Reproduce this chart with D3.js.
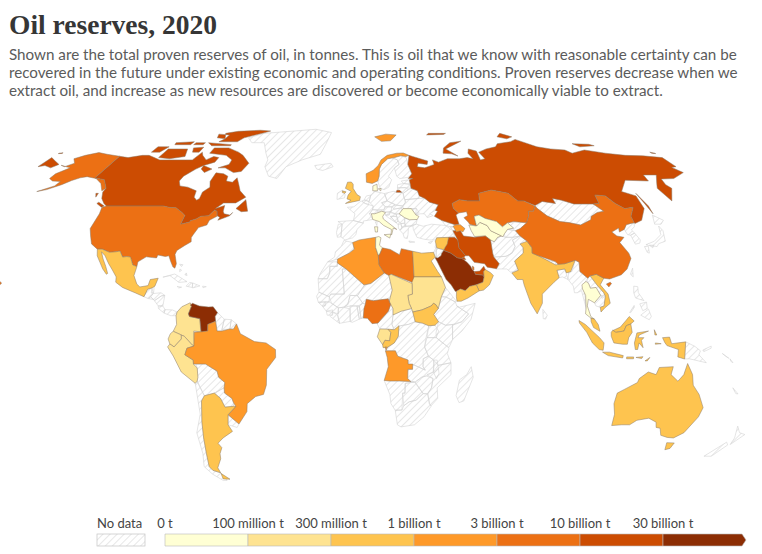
<!doctype html>
<html>
<head>
<meta charset="utf8">
<script src="https://cdnjs.cloudflare.com/ajax/libs/d3/7.8.5/d3.min.js"></script>
<style>
  body { margin: 0; background: #fff; }
  svg { display: block; }
  text { font-family: Lato, sans-serif; }
</style>
</head>
<body>
<script>
const w = 762, h = 554;

const titleText = 'Oil reserves, 2020';
const subtitleLines = [
  'Shown are the total proven reserves of oil, in tonnes. This is oil that we know with reasonable certainty can be',
  'recovered in the future under existing economic and operating conditions. Proven reserves decrease when we',
  'extract oil, and increase as new resources are discovered or become economically viable to extract.'
];

// legend bins, thresholds in billion tonnes
const thresholds = [0.1, 0.3, 1, 3, 10, 30];
const tickLabels = ['0 t', '100 million t', '300 million t', '1 billion t', '3 billion t', '10 billion t', '30 billion t'];
const binColors = ['#ffffd4', '#fee391', '#fec44f', '#fe9929', '#ec7014', '#cc4c02', '#8c2d04'];

// reserves (billion tonnes), everything else is "no data"
const oilCountries = ['Venezuela','Saudi Arabia','Canada','Iran','Iraq','Russia','Kuwait','UAE','Libya','USA','Nigeria','Kazakhstan','China','Brazil','Algeria','Angola','Norway','Mexico','Argentina','India','Australia','Indonesia','Malaysia','Vietnam','Egypt','Oman','Yemen','Azerbaijan','South Sudan','UK','Syria','Congo','Qatar','Colombia','Ecuador','Peru','Sudan','Chad','Gabon','Tunisia','Italy','Romania','Denmark','Turkmenistan','Uzbekistan','Thailand'];
const oilReserves = [48, 41, 27, 21.7, 19.6, 14.8, 14, 13, 6.3, 8.2, 5, 3.9, 3.5, 1.7, 1.5, 1.1, 1.1, 0.8, 0.3, 0.6, 0.4, 0.3, 0.4, 0.6, 0.4, 0.7, 0.4, 1, 0.5, 0.3, 0.35, 0.4, 3.4, 0.27, 0.17, 0.12, 0.2, 0.2, 0.28, 0.06, 0.08, 0.08, 0.06, 0.08, 0.08, 0.04];

// country outlines as lon,lat rings
const shapes = {
  Greenland: ['-73,78.5 -65,81 -45,82.5 -30,83.6 -18,81.5 -20,75 -22,70.5 -32,68 -40,65 -43,60 -48,61 -52,65 -52,68 -55,71 -60,76 -68,76'],
  Iceland: ['-24,65.5 -15,66.5 -13.5,65 -19,63.4 -22.5,64'],
  Guatemala: ['-92.2,14.5 -91,17.3 -89.2,17.9 -88.3,15.7 -89.5,14.3 -90.3,13.8'],
  Belize: ['-89.2,17.9 -88.3,18.4 -88.2,16.1 -89.2,15.9'],
  Honduras: ['-89.3,14.5 -88.3,15.7 -85,16 -83.2,15 -84.7,14.8 -87.5,13'],
  Salvador: ['-90.1,13.8 -89.3,14.4 -87.8,13.4'],
  Nicaragua: ['-87.5,13 -84.7,14.8 -83.2,15 -83.7,11 -85.7,11'],
  'Costa Rica': ['-85.7,11 -83.7,11 -82.6,9.6 -83,8.3 -85.5,10'],
  Panama: ['-83,8.3 -82.6,9.6 -79.5,9.5 -77.4,8.7 -77.8,7.3 -80,7.3'],
  Cuba: ['-85,21.9 -80,23.1 -74.2,20.2 -77.7,19.9 -82,22.5'],
  Haiti: ['-74.4,18.5 -73,19.9 -71.7,19.7 -71.7,18 '],
  'Dominican Rep': ['-71.7,19.7 -68.4,18.6 -71.5,17.8'],
  Jamaica: ['-78.3,18.4 -76.3,18.1 -77.5,17.8'],
  'Puerto Rico': ['-67.2,18.5 -65.6,18.3 -67,17.9'],
  Bahamas: ['-78.5,26.8 -77,26.6 -77.5,25.9', '-78,25 -77.2,24.5 -78,24', '-75,23.5 -74.5,22.5 -75.5,22.8'],
  Guyana: ['-60,8.5 -57,6 -58,1.5 -60,1.5 -60.7,5.2 -61,7'],
  Suriname: ['-57,6 -54,5.8 -54.5,2.3 -58,2'],
  'French Guiana': ['-54,5.8 -51.7,4.2 -53,2.2 -54.5,2.3'],
  Bolivia: ['-69.5,-11 -65.3,-11 -60.5,-13.7 -60,-16 -57.5,-18 -58,-20 -62.5,-22 -67,-23 -69.5,-17.5 -69,-16 -69,-12.5'],
  Paraguay: ['-58,-20 -58,-22 -55,-24 -54.5,-25.6 -54.7,-27 -58.5,-27.3 -60,-24 -62.5,-22'],
  Chile: ['-69.5,-17.5 -70.4,-18.3 -70,-30 -73.5,-37 -73.7,-45 -75.5,-50 -73,-53 -69,-55.5 -67,-55.5 -68.6,-52.5 -72,-51.5 -73,-50 -72,-45 -71,-39 -70,-33 -68.5,-25 -67,-23'],
  Uruguay: ['-57.6,-30.2 -53.4,-33.7 -54.5,-35 -58.4,-34'],
  Ireland: ['-10,54 -7.5,55.3 -6,53.5 -6.3,52.2 -10,51.6'],
  France: ['-4.7,48.5 -1.5,48.7 2,51 4,50 8,49 7.5,47.5 6,46 7.5,43.8 3,43.2 3,42.4 -1.7,43.4 -1,46', '8.6,42.9 9.5,42.9 9.3,41.5'],
  Spain: ['-9,43 -1.7,43.4 3,42.4 0,40 -0.5,38 -2,36.8 -5.5,36 -7.4,37.2 -7,42'],
  Portugal: ['-8.8,42 -7,42 -7.4,37.2 -9,37 -9.5,38.8'],
  Belgium: ['2.5,51 4,51.4 6,50.7 5.7,49.6 4,50'],
  Netherlands: ['3.5,51.4 4.8,53 7,53.3 6,50.8'],
  Germany: ['6,50.7 7,53.3 9,54.8 14,53.9 15,51 12.2,50.3 13.8,48.7 13,47.5 7.5,47.6 8,49'],
  Sweden: ['11,59 12,56 14,55.5 16.5,56.5 18.5,59.5 17,61 21,64.5 24,66 23.5,68 20.5,69 18,68.5 14,66 12.5,64 12,61'],
  Finland: ['21.5,61 23,60 27.5,60.5 30,62 29,66 29,69 26,69.8 20.5,69 23.5,68 24,66 21,64.5'],
  Estonia: ['23.5,59 28,59.5 27.5,57.7 24.5,58'],
  Latvia: ['21,56.2 21.3,57.5 24.5,58 27.5,57.7 28,56 25,56.3'],
  Lithuania: ['21,56.2 25,56.3 26.5,55.5 23.5,54 22.8,54.4 21,55.2'],
  Belarus: ['23.5,54 26.5,55.5 28,56 31,55 31.5,53 31,52 24,51.5 23.5,52.5'],
  Poland: ['14,53.9 18.5,54.8 22.8,54.4 23.5,54 24,50.5 22.5,49 19,49.4 15,51'],
  Ukraine: ['24,51.5 31,52 34,52 36,50.5 40,49.5 38,47.3 35,46 36.5,45.3 33.5,44.5 32.5,46 30.5,46 28,45.5 29,48 26.5,48 22.5,48 22.5,49 24,50.5'],
  Czechia: ['12.2,50.3 15,51 18.8,49.6 17,48.7 13.8,48.7'],
  Slovakia: ['17,48.7 19,49.4 22.5,49 22,48.3 18,47.8'],
  Austria: ['9.6,47.3 13,47.5 13.8,48.7 17,48.7 16.5,46.7 10.5,46.8'],
  Switzerland: ['6,46 7.5,47.6 9.6,47.4 10.4,46.5 8.5,46'],
  Hungary: ['16,46.8 18,47.8 22,48.3 21,46 18.8,45.9'],
  Moldova: ['26.5,48 29,48 30,46.5 28.3,45.5'],
  Bulgaria: ['22.7,44.3 25,43.7 28.6,43.8 27.8,42 26,41.3 22.5,41.3'],
  Slovenia: ['13.7,46.5 16,46.8 15.5,45.5 13.7,45.5'],
  Croatia: ['13.7,45.4 15.5,45.7 16,46.5 18.8,45.9 19,45 16,45 18.5,42.5 15,44.5'],
  Bosnia: ['16,45 19,45 19.5,43.5 18.5,42.5'],
  Serbia: ['18.8,45.9 20.3,46 22.7,44.5 22.5,42.5 20.7,42.2 19.3,43.5 19,45'],
  Montenegro: ['18.5,42.5 19.5,43.3 20,42.5 19.3,41.9'],
  Albania: ['19.4,41.9 20.6,42.2 21,40.5 20,39.7 19.3,40.5'],
  'N Macedonia': ['20.6,42.2 22.5,42.3 23,41.3 21,40.9'],
  Greece: ['20,39.6 21,40.8 26,41.5 24,40.6 23.5,38 23,36.5 21.7,36.8 21.2,38.4', '23.6,35.6 26.3,35.2 24,35'],
  Turkey: ['26.2,40 26.2,41.8 28,42 31,41.2 35,42 41.5,41.5 44.5,39.5 44.8,37.4 42,37 36.5,36.8 36,36 33,36 30.5,36.3 27.5,37'],
  Cyprus: ['32.4,35 34.5,35.6 33.5,34.6'],
  Georgia: ['40,43.5 46,41.8 46.5,41.3 43.5,41 41.5,41.5'],
  Armenia: ['43.5,41 45.5,41 46.5,39 44.5,39.7'],
  Jordan: ['35,29.4 36,33 39,32 38,31 37.5,30 36,29.2'],
  Israel: ['34.3,31.3 35.7,33 35.5,29.5 34.9,29.5'],
  Lebanon: ['35.2,33.2 36,34.6 36.5,34 35.8,33.2'],
  Kyrgyzstan: ['71,42.5 74,43 80,42.5 76,40.3 73.5,39.5 70,40 73,40.5'],
  Tajikistan: ['68,38.3 70,40 73.5,39.5 75,37.5 71.5,37 68,37'],
  Afghanistan: ['61,36 62.5,35.3 64.5,37 66.5,37.5 68,37 71.5,37 75,37.5 71,36 71.5,33.5 69.5,31 66.5,29.8 61,29.5 60.8,31'],
  Pakistan: ['61,25 66,25 67.5,23.8 71,24.5 70,28 74.5,31 75,33 77.5,35.5 75,37.5 71,36 71.5,33.5 69.5,31 66.5,29.8 61,29.5 63,27'],
  Bangladesh: ['88,24.5 91.5,25 92.3,21 90,22 88.5,21.7'],
  Nepal: ['80.2,29 88,27.8 88,26.4 81,27.5'],
  Bhutan: ['89,27.2 92,28 92,26.8 89,26.8'],
  'Sri Lanka': ['80,9.7 81.8,7.5 81,6 80,6.2'],
  Myanmar: ['92.3,21 93,24 94.5,24 97,28.3 98.5,27.5 98,24 101,21.5 100,20.5 98,18 98.7,16 98.7,10 97.5,16.8 95.5,16 94.3,16 94.2,18.5'],
  Laos: ['100.5,20.5 102,22.4 104.5,19 107,16 107.5,14.7 106,13.9 105.5,15 104,18 101.5,17.7 101,19.5'],
  Cambodia: ['102.5,12.2 105.5,15 107.5,14.7 106.5,11 104.8,10.5 103,11'],
  Philippines: ['120.5,18.5 122.2,18.3 122,16 124,13 120.5,14 120,16', '122,7.5 123.5,8.5 125.5,9.8 126.5,7 125.5,5.8 124,6.5', '122,11.8 125,12.5 125,10 123,9.2', '117.3,8.5 119.5,11.2 119.5,10.5 117.8,8.5'],
  Taiwan: ['121.5,25.3 121,22 120,23'],
  Japan: ['131,34.2 135.5,35.5 140,38 141.3,41.3 142,39.5 140.5,35.5 137,34.6 135.7,33.5 132,33.9', '140,42 141.7,45.5 145.3,43.5 143,42', '130,33.5 131.8,33.6 131,31 130.2,31.3', '132.5,34 134.5,34 133.5,33'],
  'North Korea': ['124.3,40 126.5,41.8 129,42.3 130.7,42.5 129.7,41 127.5,39.8 128.3,38.6 126,37.8 124.7,38'],
  'South Korea': ['126,37.8 128.3,38.6 129.4,36 128.5,34.8 126.3,34.4'],
  Mongolia: ['87.5,49.2 92,50.8 98,50 98,52 102,51.3 107,49.8 116.5,49.8 119.5,47 116,46.5 112,45 111,43.7 105,41.7 100,42.6 96,43 91,45.2 88,48'],
  PNG: ['141,-2.6 145,-4.3 147.5,-6 147,-7.5 150.5,-10.5 147,-9.8 143,-9 141,-9.1', '148.5,-5.7 152,-4.2 152,-5 149,-6.3'],
  'New Zealand': ['172.8,-34.5 175.5,-37 178.5,-37.7 175,-41.5 174.8,-39', '172.5,-40.6 174,-41.7 170.5,-46 167,-46'],
  'New Caledonia': ['164,-20 167,-22.3 166,-22.2'],
  Solomons: ['157,-7 160,-8.8 159,-8.3', '160.5,-9 162,-10.5 161,-10'],
  Fiji: ['177.3,-17.5 178.6,-17.8 178,-18.3'],
  Morocco: ['-6,35.8 -2,35 -1.2,32.5 -3.5,31 -8.7,28.7 -13,27.7 -10,29.5 -9.7,31.5 -7,33.7'],
  'Western Sahara': ['-13,27.7 -8.7,27.7 -8.7,26 -12,26 -12,23.4 -13,21.3 -17,21.3 -16,23.5'],
  Niger: ['0.2,14.9 3.3,19 6,19.5 12,23.5 14,22.5 15.3,17 14,13 13.5,13.7 10,13.3 7,13 4,13.5 3.6,11.7 2.5,12'],
  Mali: ['-12,14.5 -11.3,15.5 -5.5,15.5 -6.5,25 -4.8,25 3,19 3.3,19 0.2,14.9 -3,15 -4,11.5 -6,10.5 -8,10.3 -11,12'],
  Mauritania: ['-16.5,16.2 -17,21.3 -13,21.3 -12,23.4 -12,26 -8.7,26 -8.7,27.3 -4.8,25 -6.5,25 -5.5,15.5 -11.3,15.5 -12,14.5'],
  Senegal: ['-17.5,14.7 -16.5,16.2 -12,14.5 -12,12.5 -16.7,12.4'],
  'Guinea-Bissau': ['-16.7,12.4 -13.7,12.6 -13.7,11 -15,11'],
  Guinea: ['-15,11 -13.7,12.6 -12,12.5 -11,12 -8,10.3 -8,8 -10,8.5 -13.2,9'],
  'Sierra Leone': ['-13.2,9 -10.5,9.5 -10.5,7.5 -12.8,7.5'],
  Liberia: ['-11.5,7 -10,8.5 -8.3,7.5 -7.5,4.4'],
  'Ivory Coast': ['-8,10.3 -6,10.5 -3,9.9 -2.8,5.2 -7.5,4.4 -8.3,7.5'],
  'Burkina Faso': ['-5.5,10.5 -4,11.5 -3,15 0.2,14.9 2.5,12 0.5,11 -3,11'],
  Ghana: ['-3,11 0,11 1,6 -2,4.8 -3,5.1'],
  Togo: ['0,11 1,11 1.7,6.2 1,6'],
  Benin: ['1,11 2.5,12 3.6,11.7 2.7,6.4 1.7,6.2'],
  Cameroon: ['8.5,4.5 9,4.5 11,6.5 13.5,9 14.5,11.5 14,13 15.5,10 15.5,7.6 15,4 16,2 13,2.2 9.8,2.3'],
  CAR: ['15,4 15.5,7.6 19,9 23.5,10 24,8.7 25,5 22,4 18.6,3.5 16,2'],
  DRC: ['12.2,-6 13,-4.7 16,-3 17.7,-0.5 18,3.5 18.6,3.5 22,4 25,5 28,4.5 30.8,3.5 29.6,-1 29,-4.5 30.7,-8 28.5,-9 28.5,-12 29.5,-13.3 25,-11.5 22,-11 22,-9.5 17.5,-8 16.5,-6'],
  Zambia: ['22,-13 24,-13 24,-11 25,-11.5 29.5,-13.3 28.5,-12 28.5,-9 30.7,-8 33,-9.5 33.3,-11 33,-14 30,-15.5 28,-16 25.3,-17.8 23.4,-17.6 22,-16.5'],
  Namibia: ['11.8,-17.2 14,-17.4 18.5,-17.4 25,-17.8 21,-18.3 21,-22 20,-22 20,-28.4 17,-28.5 15,-26 14.4,-22.5'],
  Botswana: ['20,-22 21,-22 21,-18.3 25,-17.8 29,-22.2 26,-24.7 23,-25.3 20.7,-26.8'],
  Zimbabwe: ['25.3,-17.8 28,-16 30,-15.5 33,-16.5 32.5,-20 31,-22.3 29,-22.2'],
  'South Africa': ['17,-28.5 20,-28.4 20.7,-26.8 23,-25.3 26,-24.7 29,-22.2 31,-22.3 32,-26 32.8,-27 30,-31 26,-34 20,-34.8 18.3,-34'],
  Mozambique: ['30.3,-15 33,-14 35,-11.5 40.5,-10.5 40.7,-15 35,-20 35.5,-24 32.8,-26.8 32,-26 31,-22.3 32.5,-20 33,-16.5'],
  Malawi: ['33,-9.5 34.5,-9.5 35.5,-14.5 34.5,-16.5 33,-14'],
  Tanzania: ['30,-1 34,-1 37.5,-3.5 39.5,-5 38.8,-7 40.5,-10.5 35,-11.5 33,-9.5 30.7,-8 29,-4.5'],
  Kenya: ['34,-1 33.9,1 35,5 38,3.7 41,4 41,-1.7 39.5,-4.7 37.5,-3.5'],
  Uganda: ['30,-1 34,-1 35,1.5 33.5,3.7 30.8,3.5'],
  Ethiopia: ['33,7.8 35,10 36.5,14.5 38.5,14.4 42.5,12.5 43,11 48,8 45,5 42,4 38,3.7 35,5'],
  Eritrea: ['36.5,14.5 38.5,18 43,12.7 42.5,12.5 38.5,14.4'],
  Somalia: ['41,-1.7 41,4 45,5 48,8 43,11 44,10.5 51,12 49,6 45,1.5'],
  Madagascar: ['49.3,-12 50.4,-16 47,-25 45,-25.6 43.5,-23 44.5,-17 47.5,-15'],
  Canada: [
    '-141,69.6 -135,69 -128,70 -124,70 -115,68 -108,68 -100,68 -96,68 -94,71.5 -92,70 -88,68 -85,69.5 -81.5,69 -82,67 -87,65.5 -90,64 -94,61 -94.5,59 -92.5,57 -88,56.5 -82.5,55 -82,52.5 -80,51.3 -79,52 -79,54.5 -76.5,56.5 -78,58.8 -77.5,62.4 -73,62 -70,61 -69.5,59 -66,58.5 -64.5,60.3 -62,57.5 -60,55 -56,52.5 -60,50.2 -66,50.2 -69,48 -65,49.2 -64.8,47 -64,46 -61,45.5 -60,46.5 -61,45.2 -66,43.5 -65.5,44.7 -67,45.2 -67.8,47 -69.2,47.4 -71,45.2 -74.7,45 -76.5,44 -79,43.3 -79,42.8 -83,42 -82.5,45.3 -84.5,46.5 -88.4,48.3 -92,48.5 -95,49 -123,49 -125,50 -128,52 -130,54.5 -130,56 -135,59.5 -139,60 -141,60.3',
    '-80,73.5 -72,71.5 -68,70 -62,66.5 -64,63 -68,62.5 -74,64.5 -78,64.5 -73,66 -73,68 -78,70 -89,71 -89,73.5',
    '-117,73 -105,73 -102,69.5 -110,68.5 -117,69', '-125,74 -118,74 -120,71.5 -125,71.5',
    '-90,76.5 -78,76.5 -76,78.5 -65,81.5 -62,82.5 -70,83 -85,82.3 -92,81 -88,78',
    '-96,76 -80,75 -80,74.5 -92,74.5', '-102,73.5 -96,73.8 -96,71.5 -100,71.5', '-96,80.5 -88,80 -88,78 -94,78.5',
    '-117,76 -106,76.5 -106,75 -116,75', '-104,76 -98,76 -98,75 -104,75', '-87,65.5 -81,64 -84,62.5 -87,64',
    '-59,48 -55.5,51.5 -53,47 -56,46.8', '-128,50.5 -124,49 -125,48.5 -128.5,50', '-133,54 -131.7,54 -131.5,52.5'
  ],
  USA: [
    '-124.7,48.4 -123,49 -95,49 -92,48.5 -88.4,48.3 -84.5,46.5 -82.5,45.3 -83,42 -79,42.8 -79,43.3 -76.5,44 -74.7,45 -71,45.2 -69.2,47.4 -67.8,47 -67,45 -70,43.5 -70.5,41.7 -74,40.7 -75.5,38 -76,36.9 -75.5,35.3 -78,33.9 -81,32 -81.4,30.5 -80,27 -80.3,25.3 -81.3,25.8 -82.8,28 -84,30 -85.5,29.7 -89,30.3 -89.3,29.2 -91,29.3 -94,29.6 -97.2,27.7 -97.2,25.9 -99.2,26.5 -101,29.5 -102.7,29.7 -104.5,29.5 -106.5,31.8 -108.2,31.5 -111,31.3 -114.8,32.5 -117,32.5 -120.5,34.5 -122.5,37.5 -124.3,40.3 -124,46',
    '-141,69.6 -150,70.5 -156.5,71.3 -162,70 -166,68.5 -162,66.5 -165,65 -168,65.6 -161,64.5 -165,62 -165,60 -162,59 -157.5,58.8 -158,57 -164,54.7 -160,55.5 -155,57.5 -152,59.2 -149,60.3 -146,60.8 -140,60 -135,58 -131,55 -130,56 -135,59.5 -139,60 -141,60.3',
    '-155.9,20.2 -155,19.7 -155.7,18.9 -156.1,19.6'
  ],
  Mexico: ['-117,32.5 -116,30 -114,27.5 -112,25 -110,23 -109.5,23.3 -111,26 -113,28.8 -114.7,31.5 -112.5,30 -110,27 -108,25 -105.5,22 -105.3,20 -102,18 -96,15.9 -92.2,14.5 -91,17.3 -89,17.9 -88,18.5 -87,21.5 -90.4,21 -91,18.7 -94.5,18.2 -96,19.3 -97.8,22.5 -97.2,25.9 -99.2,26.5 -101,29.5 -102.7,29.7 -104.5,29.5 -106.5,31.8 -108.2,31.5 -111,31.3 -114.8,32.5'],
  Colombia: ['-77.4,8.7 -75.5,10.7 -72,12.2 -71.3,11 -72.5,8 -72,7 -67.5,6.2 -67,1.2 -70,1.5 -69.8,-4.2 -70.7,-3.8 -74,-0.5 -75.3,0 -78.8,1.4 -77.4,4 -77.8,7.3'],
  Ecuador: ['-78.8,1.4 -75.3,0 -75.3,-1.5 -78.5,-4.5 -80.3,-3.4 -81,-1.5 -80,0.5'],
  Peru: ['-81.3,-4.5 -80.3,-3.4 -78.5,-4.5 -75.3,-1.5 -75.3,0 -74,-0.5 -70.7,-3.8 -70,-4.2 -73,-5 -74,-7.5 -70.5,-9.5 -70.5,-11 -69,-12.5 -69,-16 -69.5,-17.5 -70.4,-18.3 -76,-14 -79,-8'],
  Venezuela: ['-71.9,11.3 -71,12 -68,11 -64,10.6 -62,10.7 -60,8.5 -61,7 -60.7,5.2 -64,4 -64,1.5 -66.8,1 -67.5,6.2 -72,7 -72.5,8 -71.3,11'],
  Brazil: ['-51.7,4.2 -50,0.5 -44,-2.5 -39,-3 -35,-5.5 -35,-8.5 -39,-13 -39.5,-19 -41,-22.5 -44.5,-23.3 -48.5,-26 -49,-29 -53.4,-33.7 -57.6,-30.2 -53.7,-27 -54.5,-25.6 -55,-24 -58,-22 -58,-20 -57.5,-18 -60,-16 -60.5,-13.7 -65.3,-11 -69.5,-11 -70.5,-11 -70.5,-9.5 -74,-7.5 -73,-5 -70,-4.2 -69.8,1 -67,1.2 -64,1.5 -64,4 -60.7,5.2 -60,1.5 -58,1.5 -54.5,2.3 -53,2.2'],
  Argentina: ['-67,-23 -62.5,-22 -60,-24 -58.5,-27.3 -54.7,-27 -53.7,-27 -57.6,-30.2 -58.4,-34 -57,-36.5 -62,-39 -65,-41 -63.8,-42.7 -65.5,-45 -66,-47 -69,-50.5 -68.6,-52.5 -72,-51.5 -73,-50 -72,-45 -71,-39 -70,-33 -68.5,-25', '-68.6,-52.7 -68.6,-54.9 -65.2,-55'],
  UK: ['-5.7,50 1.3,51.2 1.7,52.7 0,53.5 -2,56 -2,57.7 -3,58.6 -5,58.5 -6,56 -3,54.8 -4.5,53.3 -5,51.8 -3,51.3', '-7.5,55 -5.6,54.6 -6.2,54 -7.5,54.3'],
  Norway: ['5,58.5 8,58 11,59 12,61 12.5,64 14,66 18,68.5 22,69 26,69.8 29,69.5 31,70 28,71.1 24,71 18,70 14,68 12,65.5 9,63.5 5,62', '12,79 20,80.5 27,80 22,77 16,76.7'],
  Denmark: ['8.1,55 8.3,57 10.5,57.7 10.5,55', '11,55.8 12.5,56 12.2,55'],
  Italy: ['7.5,43.8 6.9,46 8.5,46 10.4,46.5 12,47 13.7,46.5 12.3,45 12.5,44 16,41.7 18.5,40 16.9,40.5 16,38 15.7,38 16,40 12.5,41.5 10.5,43', '12.5,38 15.6,38.2 15,36.7', '8.2,41 9.7,41 9.5,39 8.5,39'],
  Romania: ['20.3,46 22.5,48 26.5,48 28.3,45.5 29.6,45 28.6,43.8 25,43.7 22.7,44.5'],
  Russia: [
    '31,70 33,69.5 41,67.5 40,66 35,66.5 34,65 38,64.5 40,65 44,66 44,68 47,67 53,68.5 60,68.5 65,69 68,68.5 67,71 69,73 73,72 72,68 75,68.5 74,71.5 80,73 87,74 90,75.5 100,76.5 105,77.7 113,74 120,73 128,72.5 130,71 140,72.5 150,71 160,70 170,69.8 180,69 180,65 177,64.7 179.5,62.5 170,60 163,59.8 162,57.5 163,56 156.7,51 155.5,56 158,58 163,61.5 156,61.5 155,59 143,59.3 135.5,54.7 141,53 140,48 135,43.5 131,42.3 130.7,42.5 131,45 135,48.5 130.5,48 127.5,50 125.5,53 120.5,53.3 119.5,50 116.5,49.8 107,49.8 102,51.3 98,52 98,50 92,50.8 87.5,49.2 83,51 80,51 77,54 71,55 69,55.3 62,54 61,51 55,51 51,51.5 47,50 47,48 49,46.3 47.5,45.5 48,42 46,41.8 40,43.5 37,45 39,47 38,47.3 40,49.5 36,50.5 34,52 31.5,53 31,55 28,56 28,59.5 30,60 27.5,60 30,62 29,66',
    '-180,65 -180,69 -175,67.5 -170,66 -172,64.5 -177,65.5',
    '20,54.4 22.8,54.4 22,55.2 20.5,55.2',
    '142,54 143,49 142.5,46 142,50',
    '52,71 57,70.7 60,69.7 55,73 68,76.8 60,76 54,73.5',
    '95,79 100,78 105,79 100,81', '48,80 60,80.3 62,81 50,81', '138,75.5 148,75.2 150,74.5 140,74',
    '178,71.5 180,71 180,70.8 178,71', '-180,71 -178,71.2 -178,70.9 -180,70.8'
  ],
  Kazakhstan: ['47,50 51,51.5 55,51 61,51 62,54 69,55.3 71,55 77,54 80,51 83,51 87.3,49 85.5,47 83,47 82.3,45.3 80,42.5 74,43 71,42.5 68,41 66,43 61,44.2 58.5,45.5 56,45 56,41.3 53,42 52.5,42.8 51,44.5 53,45.3 53,46.8 49,46.3 47,48'],
  Turkmenistan: ['52.5,41.7 53,39.5 54,37.3 59,37.5 61,36 62.5,35.3 64.5,37 66.5,37.5 62,39.5 61,41.5 58,42.7 56,41.3'],
  Uzbekistan: ['56,45 58.5,45.5 61,44.2 66,43 68,41 71,42.5 73,40.5 70,40 68,38.3 67,37.2 66.5,37.5 62,39.5 61,41.5 58,42.7 56,41.3'],
  India: ['68,23.5 71,24.5 70,28 74.5,31 75,33 74,34.5 77.5,35.5 79,33 78.5,31 81,30 88,26.5 89,26.8 92,27 97,28.3 96,27 94,24 92,23.5 91.5,25 88,24.5 88.5,21.7 86,20 80.3,15.5 80,12 77.5,8 75,12 72.8,19 72.5,21 70,21'],
  Thailand: ['100,20.3 101,19.5 101.5,17.7 104,18 105.5,15 102.5,12.2 101,13 100,13.5 99.3,11 100.5,7 102,6 100.5,6.4 98.3,8 98.7,10.5 99,15 98,17.5 98,19'],
  Vietnam: ['102.2,22.4 105,23 108,21.5 106,19 108.8,15.5 109.3,12 106.8,10.3 105,8.7 104.8,10.5 106.5,11 107.5,14.7 107,16 104.5,19'],
  Malaysia: ['100.5,6.4 102,6 103.5,4 104.2,1.4 101.5,2.8 100.5,5', '109.7,1.8 111,1 114.5,1.5 115.5,3.5 117.5,4.2 119,5.3 117,7 115.5,5.5 113,3 110,1.8'],
  Indonesia: ['95.3,5.5 98,4 104,-1 106,-3 105.7,-5.8 104,-5.5 101,-3 98.5,1 95.5,4.5', '105.5,-6.5 108.5,-6.5 114.5,-7.8 114.3,-8.7 108,-7.8', '109,1 109.7,1.8 111,1 114.5,1.5 115.5,3.5 117.5,4.2 118,1 116.5,-1 116,-3.5 114,-3.5 110.2,-3 109,-0.5', '119.5,-5.5 119,-3 120,0.8 125,1.5 121,0 120.5,-1 123,-1 122,-2 122.8,-4.8 121,-3 120.5,-5.5', '127.5,2 128.5,0 127.7,0', '116,-8.3 119,-8.3 119,-9 116,-9', '120,-8.5 123,-8.2 122.5,-8.9', '124,-9.8 126,-8.5 125,-9.8', '128,-3 130.5,-3.3 128,-3.5', '131,-1 134,-0.8 135,-3.3 141,-2.6 141,-9.1 138,-8.3 138,-5.5 133,-4 132,-2.8'],
  China: ['73.5,39.5 76,40.3 80,42.5 82.3,45.3 83,47 85.5,47 87.3,49 88,48 91,45.2 96,43 100,42.6 105,41.7 111,43.7 112,45 116,46.5 119.5,47 116.5,49.8 119.5,50 120.5,53.3 125.5,53 127.5,50 130.5,48 135,48.5 131,45 130.7,42.5 129,42.3 126.5,41.8 124.3,40 121.5,39 122,40.5 118,39 119.5,37.5 122.5,37 119.5,35 121.8,31 122,29 119,25 116,22.8 110.5,21.2 108,21.5 105,23 102.2,22.4 101,21.5 98,24 98.5,27.5 97,28.3 92,27 89,26.8 88,27.8 81,30 78.5,31 79,33 77.5,35.5 75,37.5', '108.7,19.3 110.5,20 111,19.5 109.6,18.2'],
  Iran: ['44.5,39.5 48,39.5 49,37.5 54,37 59,37.5 61,36 60.8,31 61,29.5 63,27 61.5,25.1 57.5,25.7 56.5,27 52,27.5 50,30 48.5,30 46,33 46,36'],
  Iraq: ['39,32 42,37 44.8,37 46,36 46,33 48.5,30 47.7,29.5 46.5,29 44.7,29.2 42,31'],
  Syria: ['35.7,35.5 36.5,36.8 42,37 41,34.5 39,32.3 36,33'],
  Azerbaijan: ['45,41.2 46.5,41.8 48.5,41.8 50.3,40.3 49,39 48,39.5 46,39'],
  Kuwait: ['46.5,29 47.7,29.5 48.4,28.6 47.5,28.5'],
  'Saudi Arabia': ['34.7,29.3 36,29.2 37.5,30 38,31 39,32 42,31 44.7,29.2 46.5,29 47.5,28.5 48.8,27.5 50.2,26 50.8,24.7 51.6,24 52,23 55.2,22.7 55.7,22 55,20 52,19 49,18.4 47,16.8 45,17.4 43.2,16.6 42.7,16.5 41,19 39,21 37.2,24.5 35.5,28'],
  Qatar: ['50.8,24.8 51,26.1 51.6,25.7 51.5,24.6'],
  UAE: ['51.6,24 54,24.2 56,26 56.5,24.8 55.7,24 55.7,22 55.2,22.7 52,23'],
  Oman: ['52,19 55,20 55.7,22 55.7,24 56.5,24.8 58.7,23.6 59.8,22.5 57.7,19 55,17 53,16.7'],
  Yemen: ['43.2,12.8 43,14.5 43.2,16.6 45,17.4 47,16.8 49,18.4 52,19 53,16.7 48,14 45,12.8'],
  Algeria: ['-1.2,32.5 -2,35 1,36 8.6,37 8.4,33.2 9.5,30.2 9.8,26.5 12,23.5 6,19.5 3.3,19 3,19 -4.8,25 -8.7,27.3 -8.7,28.7 -3.5,31'],
  Tunisia: ['8.6,37 10,37.3 11,36.8 10.2,34 11.5,33 10,30.3 9.5,30.2 8.4,33.2'],
  Libya: ['11.5,33 15,32.4 19,30.4 20,32.7 25,31.7 25,20 24,19.5 24,20 15,23 14,22.5 12,23.5 9.8,26.5 9.5,30.2 10,30.3'],
  Egypt: ['25,31.7 29,31 32.5,31.2 34.3,31.3 34.9,29.5 33,28 35.5,24 37,22 25,22'],
  Sudan: ['24,20 25,22 37,22 38.5,18 36.5,14.5 35,10 34,11.5 33,12 32,11 28,9.5 24,8.7 23.5,10 22.5,12 22,15 24,15.5'],
  Chad: ['14,22.5 15,23 24,19.5 24,15.5 22,15 22.5,12 23.5,10 19,9 15.5,7.6 15.5,10 14,12.5 14,13 15.3,17'],
  'South Sudan': ['24,8.7 28,9.5 32,11 33,12 34,11.5 35,10 33,7.8 35,5 33.5,3.7 30.8,3.5 28,4.5 25,5'],
  Nigeria: ['2.7,6.4 3,10 3.6,11.7 4,13.5 7,13 10,13.3 13.5,13.7 14.5,11.5 13.5,9 11,6.5 9,4.5 6.5,4.3 4.5,6.3'],
  Gabon: ['8.7,-0.7 9.8,2.3 13.3,2.2 14.5,1 14,-2.2 12,-2 11,-3.7'],
  Congo: ['11.2,-4.8 11,-3.7 12,-2 14,-2.2 14.5,1 13.3,2.2 16,2 18,3.5 17.7,-0.5 16,-3 13,-4.7'],
  Angola: ['11.8,-17.2 13.5,-12 13,-8.5 12.2,-6 16.5,-6 17.5,-8 22,-9.5 22,-11 24,-11 24,-13 22,-13 22,-16.5 23.4,-17.6 18.5,-17.4 14,-17.4', '12,-4.5 13,-4.6 12.5,-5.8'],
  Australia: ['114,-22 117,-20.5 122,-18 122.5,-16.5 126,-14 129.5,-15 130.5,-12.3 136.5,-12 136,-15 139.5,-17.5 141.5,-15 142.5,-10.8 145.3,-15 146.5,-19 150,-22.5 153.5,-27.5 153,-31 150,-37 146.5,-39 143.5,-38.8 140,-38 138,-35.3 136,-35 135,-33 131,-31.5 126,-32.3 123.5,-34 120,-34 115.5,-34.3 115,-30 113.5,-26', '144.7,-40.8 148.3,-40.9 148,-43 146,-43.5']
};

// Robinson projection table, every 5 degrees of latitude
const robinsonLat = d3.range(0, 95, 5);
const robinsonX = [1, .9986, .9954, .99, .9822, .973, .96, .9427, .9216, .8962, .8679, .835, .7986, .7597, .7186, .6732, .6213, .5722, .5322];
const robinsonY = [0, .062, .124, .186, .248, .31, .372, .434, .4958, .5571, .6176, .6769, .7346, .7903, .8435, .8936, .9394, .9761, 1];
const tableX = d3.scaleLinear().domain(robinsonLat).range(robinsonX);
const tableY = d3.scaleLinear().domain(robinsonLat).range(robinsonY);

const projection = d3.geoProjection((lambda, phi) => {
  const deg = Math.abs(phi) * 180 / Math.PI;
  return [0.8487 * tableX(deg) * lambda, 1.3523 * tableY(deg) * Math.sign(phi)];
}).scale(157.5).translate([357, 335]);

const color = d3.scaleThreshold().domain(thresholds).range(binColors);
const values = new Map(oilCountries.map((d, i) => [d, oilReserves[i]]));

const line = d3.line();
const ringPath = (s) => line(s.trim().split(/\s+/).map((p) => projection(p.split(',').map(Number)))) + 'Z';

const svg = d3.select('body').append('svg').attr('width', w).attr('height', h);

const defs = svg.append('defs');
defs.append('pattern')
  .attr('id', 'hatch')
  .attr('patternUnits', 'userSpaceOnUse')
  .attr('width', 5).attr('height', 5)
  .attr('patternTransform', 'rotate(45)')
  .append('line')
  .attr('x1', 0).attr('y1', 0).attr('x2', 0).attr('y2', 5)
  .attr('stroke', '#d2d2d2').attr('stroke-width', 1.1);

svg.append('text')
  .attr('x', 9).attr('y', 34)
  .attr('textLength', 208).attr('lengthAdjust', 'spacingAndGlyphs')
  .style('font-family', "'Liberation Serif', serif")
  .attr('font-size', 28).attr('font-weight', 700)
  .attr('fill', '#363636')
  .text(titleText);

svg.selectAll('text.sub')
  .data(subtitleLines)
  .enter()
  .append('text')
  .attr('class', 'sub')
  .attr('x', 9)
  .attr('y', (d, i) => 60 + i * 18)
  .attr('font-size', 15.2)
  .attr('fill', '#5b5b5b')
  .text((d) => d);

// no data countries first so the coloured ones sit on top of them
const names = Object.keys(shapes).sort((a, b) => values.has(a) - values.has(b));

svg.append('g')
  .selectAll('path')
  .data(names)
  .enter()
  .append('path')
  .attr('d', (d) => shapes[d].map(ringPath).join(''))
  .attr('fill', (d) => values.has(d) ? color(values.get(d)) : 'url(#hatch)')
  .attr('stroke', (d) => values.has(d) ? '#8a7a68' : '#d4d4d4')
  .attr('stroke-width', (d) => values.has(d) ? 0.5 : 0.6)
  .attr('stroke-linejoin', 'round');

// legend
const legendX = d3.scaleLinear().domain([0, binColors.length]).range([165, 746]);
const legendTop = 534, legendH = 12;

svg.append('rect')
  .attr('x', 97).attr('y', legendTop)
  .attr('width', 48).attr('height', legendH)
  .attr('fill', 'url(#hatch)')
  .attr('stroke', '#c4c4c4').attr('stroke-width', 0.7);

svg.append('text')
  .attr('x', 97).attr('y', 528)
  .attr('font-size', 13).attr('fill', '#444')
  .text('No data');

const lastBin = binColors.length - 1;
svg.append('g')
  .selectAll('path')
  .data(binColors)
  .enter()
  .append('path')
  .attr('d', (d, i) => {
    const x0 = legendX(i), x1 = legendX(i + 1);
    if (i < lastBin) return `M${x0},${legendTop}H${x1}V${legendTop + legendH}H${x0}Z`;
    const tip = x1 - 4;
    return `M${x0},${legendTop}H${tip}L${x1},${legendTop + legendH / 2}L${tip},${legendTop + legendH}H${x0}Z`;
  })
  .attr('fill', (d) => d)
  .attr('stroke', '#b9b9b9')
  .attr('stroke-width', 0.6);

svg.append('g')
  .selectAll('text')
  .data(tickLabels)
  .enter()
  .append('text')
  .attr('x', (d, i) => legendX(i))
  .attr('y', 528)
  .attr('text-anchor', 'middle')
  .attr('font-size', 13)
  .attr('fill', '#444')
  .text((d) => d);
</script>
</body>
</html>
